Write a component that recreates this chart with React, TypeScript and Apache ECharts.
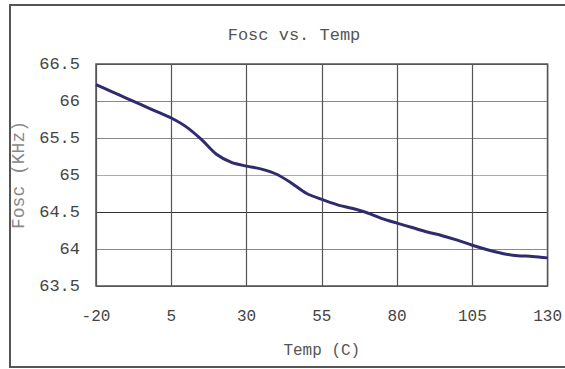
import React, { useEffect, useRef } from "react";
import * as echarts from "echarts";

const temps: string[] = [
  "-20", "-15", "-10", "-5", "0", "5", "10", "15", "20", "25", "30", "35", "40", "45", "50",
  "55", "60", "65", "70", "75", "80", "85", "90", "95", "100", "105", "110", "115", "120", "125", "130",
];
const fosc: number[] = [
  66.22, 66.13, 66.04, 65.95, 65.86, 65.77, 65.65, 65.48, 65.28, 65.17, 65.12, 65.08, 65.01, 64.89, 64.75,
  64.67, 64.6, 64.55, 64.49, 64.41, 64.35, 64.29, 64.23, 64.18, 64.12, 64.05, 63.99, 63.94, 63.91, 63.9, 63.88,
];
const yMin = 63.5;
const yMax = 66.5;
const yStep = 0.5;
const titleText = "Fosc vs. Temp";
const xName = "Temp (C)";
const yName = "Fosc (KHz)";

const FONT = "Liberation Mono";

export default function App() {
  const ref = useRef<HTMLDivElement>(null);
  useEffect(() => {
    if (!ref.current) return;
    const chart = echarts.init(ref.current, undefined, { renderer: "svg" });
    chart.setOption({
      animation: false,
      backgroundColor: "#ffffff",
      title: {
        text: titleText,
        left: 289,
        top: 22,
        textAlign: "center",
        textStyle: { fontFamily: FONT, fontSize: 17, fontWeight: "normal", color: "#555" },
      },
      graphic: [
        {
          type: "rect",
          shape: { x: 10, y: 5, width: 600, height: 362 },
          style: { fill: "none", stroke: "#555", lineWidth: 2 },
          z: 10,
        },
      ],
      grid: {
        left: 96,
        top: 64,
        right: 14,
        bottom: 83,
        show: true,
        borderColor: "#555",
        borderWidth: 1.5,
      },
      xAxis: {
        type: "category",
        data: temps,
        boundaryGap: false,
        name: xName,
        nameLocation: "middle",
        nameGap: 57,
        nameTextStyle: { fontFamily: FONT, fontSize: 16, color: "#555" },
        axisLine: { show: false },
        axisTick: { show: false },
        axisLabel: {
          interval: 4,
          margin: 23,
          fontFamily: FONT,
          fontSize: 16,
          color: "#444",
        },
        splitLine: {
          show: true,
          interval: 4,
          lineStyle: { color: "#555", width: 1.2 },
        },
      },
      yAxis: {
        type: "value",
        min: yMin,
        max: yMax,
        interval: yStep,
        name: yName,
        nameLocation: "middle",
        nameGap: 57,
        nameRotate: 90,
        nameTextStyle: { fontFamily: FONT, fontSize: 18, color: "#888" },
        axisLine: { show: false },
        axisTick: { show: false },
        axisLabel: {
          margin: 16,
          fontFamily: FONT,
          fontSize: 17,
          color: "#444",
        },
        splitLine: {
          show: true,
          lineStyle: {
            color: ["#555", "#888", "#333", "#aaa", "#888", "#888", "#555"],
            width: 1.2,
          },
        },
      },
      series: [
        {
          type: "line",
          data: fosc,
          smooth: 0.3,
          symbol: "none",
          lineStyle: { color: "#2e2c6e", width: 3 },
        },
      ],
    });
    return () => chart.dispose();
  }, []);
  return (
    <div
      ref={ref}
      style={{ position: "fixed", left: 0, top: 0, width: 565, height: 369, background: "#fff" }}
    />
  );
}
